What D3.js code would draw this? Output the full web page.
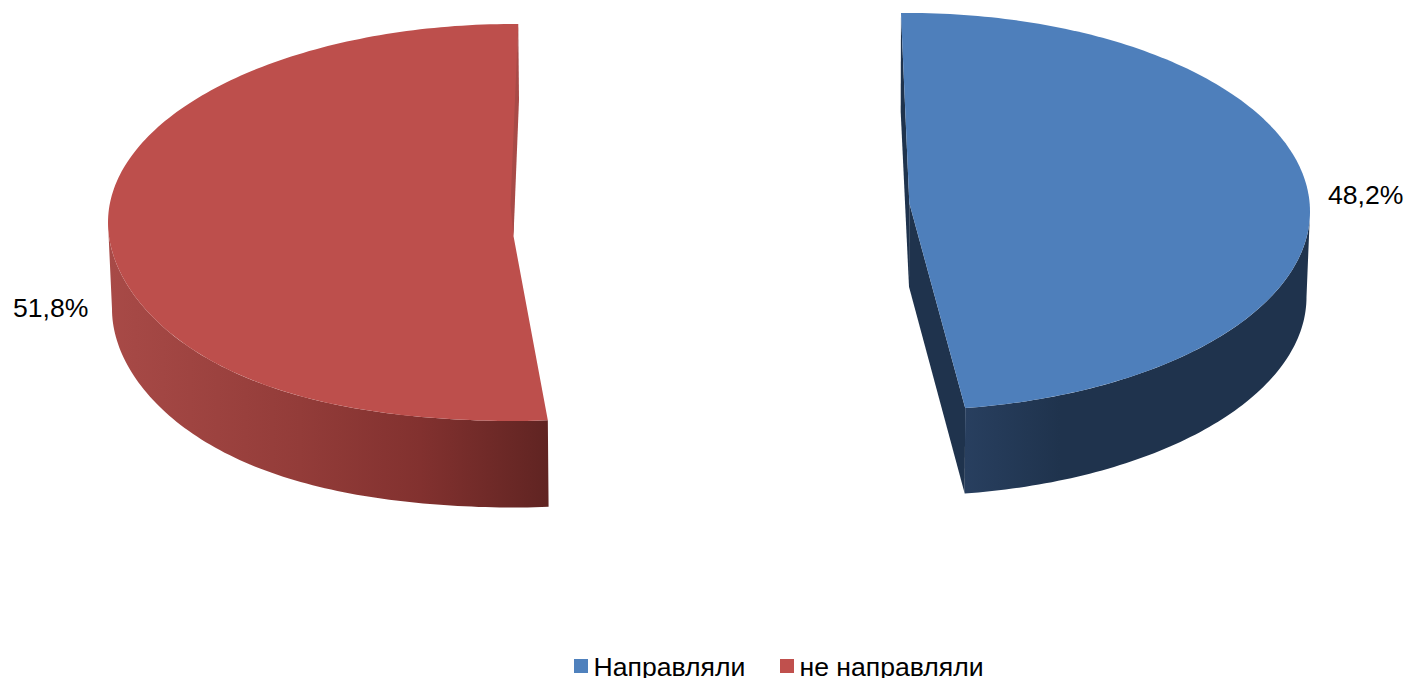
<!DOCTYPE html>
<html>
<head>
<meta charset="utf-8">
<script src="https://cdn.jsdelivr.net/npm/d3@7"></script>
<style>
html,body{margin:0;padding:0;background:#fff;overflow:hidden}
svg{display:block}
text{font-family:"Liberation Sans",Arial,sans-serif;fill:#000}
</style>
</head>
<body>
<svg id="chart" width="1407" height="678"></svg>
<script>
// data
const categories = ["Направляли", "не направляли"];
const values = [48.2, 51.8];
const valueLabels = ["48,2%", "51,8%"];

// colours
const topColors = ["#4e7fbb", "#bd4f4c"];
const innerColors = ["#1f334d", "#a84a47"];
const legendColors = ["#4f81bd", "#c0504d"];
const wallStops = [
  [[965, "#283f5f"], [1060, "#1f334d"], [1310, "#1f334d"]],
  [[108, "#a84a47"], [300, "#933c39"], [420, "#82312f"], [549, "#602422"]]
];

// layout of each exploded slice
const slices = [
  { cx: 908, cy: 211.5, rx: 402, ry: 198.5, apex: [909.3, 203], bulge: 0,
    bcx: 908, bcy: 297, brx: 398.5, bry: 198.5,
    skew: [-1, -1.7], wallFrom: 90,
    apexBottom: [909, 286.7], backBottom: [900.7, 111.7] },
  { cx: 514, cy: 222.5, rx: 406, ry: 198.5, apex: [513.5, 236], bulge: 6,
    bcx: 515, bcy: 309, brx: 403, bry: 198.5,
    skew: [1.7, 0.6], wallFrom: 270,
    apexBottom: null, backBottom: [519, 100], edgeInner: [510.5, 205] }
];
const labelPos = [[1328, 204], [13, 317]];
const fontSize = 26.6;

const svg = d3.select("#chart");
const defs = svg.append("defs");
const deg = d3.scaleLinear().domain([0, 2 * Math.PI]).range([0, 360]);
const pie = d3.pie().sort(null).startAngle(0).endAngle(2 * Math.PI);
const arcs = pie(values);

const closed = d3.line().curve(d3.curveLinearClosed);

function rimPoints(cx, cy, rx, ry, a0, a1, bulge) {
  const n = Math.max(2, Math.ceil(Math.abs(a1 - a0)));
  return d3.range(n + 1).map(i => {
    const t = (a0 + (a1 - a0) * i / n) * Math.PI / 180;
    // the lower-outer quadrant is slightly fuller (perspective of the 3D view)
    const inQuad = Math.sin(t) < 0 && Math.cos(t) < 0;
    const extra = bulge && inQuad ? bulge * Math.pow(Math.sin(2 * t), 2) : 0;
    return [cx + rx * Math.sin(t), cy - ry * Math.cos(t) + extra];
  });
}

arcs.forEach((arc, i) => {
  const s = slices[i];
  const a0 = deg(arc.startAngle) + s.skew[0];
  const a1 = deg(arc.endAngle) + s.skew[1];
  const g = svg.append("g");

  // outer wall gradient
  const stops = wallStops[i];
  const x0 = stops[0][0], x1 = stops[stops.length - 1][0];
  const sx = d3.scaleLinear().domain([x0, x1]).range([0, 1]);
  defs.append("linearGradient")
    .attr("id", "wall" + i)
    .attr("gradientUnits", "userSpaceOnUse")
    .attr("x1", x0).attr("x2", x1)
    .attr("y1", 0).attr("y2", 0)
    .selectAll("stop").data(stops).join("stop")
    .attr("offset", d => sx(d[0]))
    .attr("stop-color", d => d[1]);

  const from = i === 0 ? s.wallFrom : a0;
  const to = i === 0 ? a1 : s.wallFrom;
  const top = rimPoints(s.cx, s.cy, s.rx, s.ry, from, to, s.bulge);
  const bottom = rimPoints(s.bcx, s.bcy, s.brx, s.bry, to, from, s.bulge);

  const rimStart = rimPoints(s.cx, s.cy, s.rx, s.ry, a0, a0, 0)[0];
  const rimEnd = rimPoints(s.cx, s.cy, s.rx, s.ry, a1, a1, 0)[0];
  const rimEndBottom = rimPoints(s.bcx, s.bcy, s.brx, s.bry, a1, a1, 0)[0];

  if (i === 0) {
    // inner walls seen through the explosion gap
    g.append("path").attr("fill", innerColors[i])
      .attr("d", closed([rimStart, s.backBottom, s.apexBottom, s.apex]));
    g.append("path").attr("fill", innerColors[i])
      .attr("d", closed([s.apex, s.apexBottom, rimEndBottom, rimEnd]));
  }

  g.append("path").attr("fill", `url(#wall${i})`)
    .attr("d", closed(top.concat(bottom)));

  // top face
  const face = [s.apex].concat(rimPoints(s.cx, s.cy, s.rx, s.ry, a0, a1, s.bulge));
  g.append("path").attr("fill", topColors[i]).attr("d", closed(face));

  if (i === 1) {
    // sliver of the inner wall visible on the upper edge
    g.append("path").attr("fill", innerColors[i])
      .attr("d", closed([rimEnd, s.backBottom, s.apex, s.edgeInner]));
  }

  svg.append("text")
    .attr("x", labelPos[i][0]).attr("y", labelPos[i][1])
    .attr("font-size", fontSize)
    .text(valueLabels[i]);
});

// legend
const legendX = [574, 780];
const legend = svg.append("g").selectAll("g").data(categories).join("g");
legend.append("rect")
  .attr("x", (d, i) => legendX[i]).attr("y", 659)
  .attr("width", 14).attr("height", 14)
  .attr("fill", (d, i) => legendColors[i]);
legend.append("text")
  .attr("x", (d, i) => legendX[i] + 19.5).attr("y", 676)
  .attr("font-size", fontSize)
  .text(d => d);
</script>
</body>
</html>
